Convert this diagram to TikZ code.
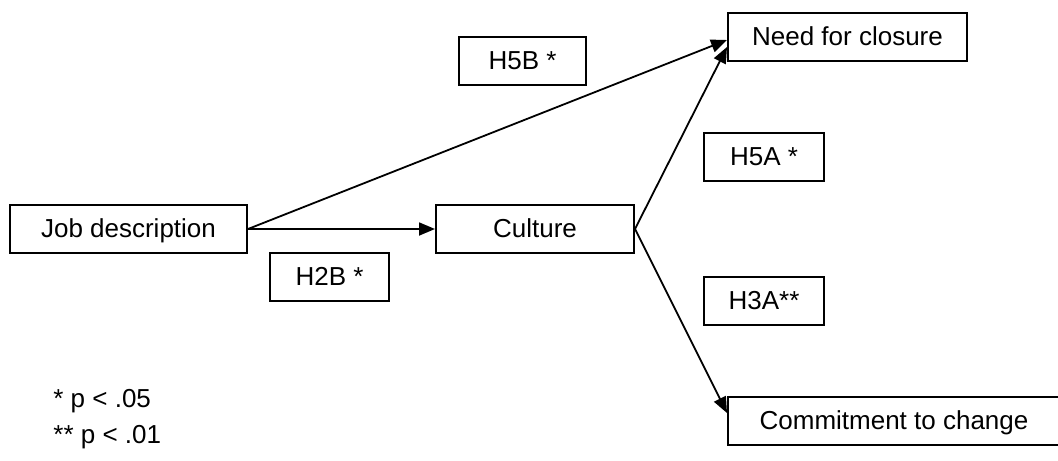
\documentclass[tikz,border=0pt]{standalone}
\usepackage{fontspec}
\setmainfont{Liberation Sans}
\usetikzlibrary{arrows.meta}
\begin{document}
\begin{tikzpicture}[x=0.5pt, y=-0.5pt,
    font=\fontsize{13}{15}\selectfont,
    box/.style={draw, line width=1pt, inner sep=0pt, minimum height=24pt,
      text height=0.9em, text depth=0.06em},
    link/.style={line width=0.9pt, -{Triangle[length=8pt, width=6.5pt]}}]
            \useasboundingbox (0, 0) rectangle (1058, 460);
            \node[box, minimum width=118.5pt] (job) at (128.5, 229) {Job description};
            \node[box, minimum width=99pt] (culture) at (535, 229) {Culture};
            \node[box, minimum width=119.5pt] (need) at (847.5, 37) {Need for closure};
            \node[box, minimum width=166pt] (commit) at (894, 421) {Commitment to change};
            \node[box, minimum width=63.5pt] (h5b) at (522.5, 61) {H5B *};
            \node[box, minimum width=60pt] (h5a) at (764, 157) {H5A *};
            \node[box, minimum width=59.5pt] (h2b) at (329.5, 277) {H2B *};
            \node[box, minimum width=60pt] (h3a) at (764, 301) {H3A**};
            \draw[link] (job.east) -- ([yshift=-1.5pt]need.west);
            \draw[link] (job.east) -- (culture.west);
            \draw[link] (culture.east) -- ([yshift=-5pt]need.west);
            \draw[link] (culture.east) -- ([yshift=4pt]commit.west);
            \node[anchor=base west, inner sep=0pt] (p05) at (53, 407) {* p < .05};
            \node[anchor=base west, inner sep=0pt] (p01) at (53, 443) {** p < .01};
          \end{tikzpicture}
\end{document}
